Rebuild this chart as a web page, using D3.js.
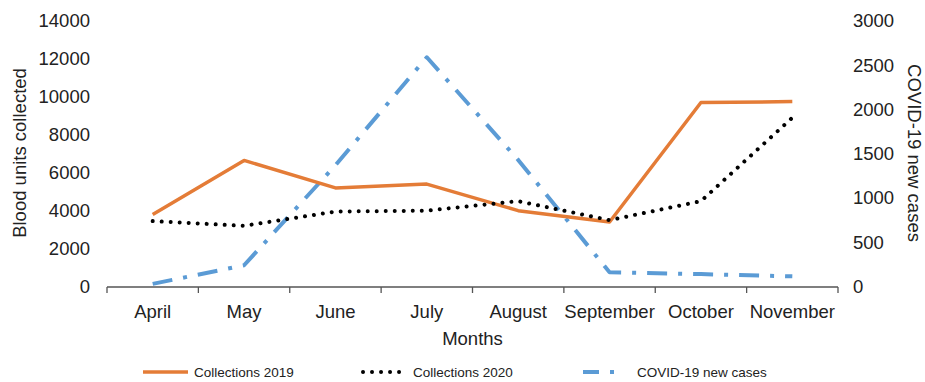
<!DOCTYPE html>
<html>
<head>
<meta charset="utf-8">
<script src="https://cdn.jsdelivr.net/npm/d3@7"></script>
<style>
  body { margin: 0; background: #fff; }
  text { font-family: "Liberation Sans", Arial, sans-serif; fill: #222; }
</style>
</head>
<body>
<script>
// data
var months = ["April", "May", "June", "July", "August", "September", "October", "November"];
var collections2019 = [3800, 6650, 5200, 5400, 4000, 3400, 9700, 9750];
var collections2020 = [3450, 3200, 3950, 4000, 4500, 3500, 4500, 8900];
var covidCases = [30, 240, 1370, 2590, 1430, 160, 140, 115];
var leftTicks = [0, 2000, 4000, 6000, 8000, 10000, 12000, 14000];
var rightTicks = [0, 500, 1000, 1500, 2000, 2500, 3000];

var W = 925, H = 382;
var margin = { left: 107, right: 87, top: 21, bottom: 96 };

var svg = d3.select("body").append("svg")
    .attr("width", W)
    .attr("height", H);

var x = d3.scaleBand().domain(months).range([margin.left, W - margin.right]);
var yL = d3.scaleLinear().domain([0, 14000]).range([286.5, margin.top]);
var yR = d3.scaleLinear().domain([0, 3000]).range([286.5, margin.top]);

// x axis
var xg = svg.append("g").attr("transform", "translate(0,287)");
xg.append("line")
    .attr("x1", x.range()[0]).attr("x2", x.range()[1])
    .attr("stroke", "#555").attr("stroke-width", 1.3);
var tickPos = months.map(function (m) { return x(m); }).concat([x.range()[1]]);
xg.selectAll(".tk").data(tickPos).enter().append("line")
    .attr("x1", function (d) { return d; }).attr("x2", function (d) { return d; })
    .attr("y1", 0).attr("y2", 6)
    .attr("stroke", "#555").attr("stroke-width", 1.3);
xg.selectAll(".lb").data(months).enter().append("text")
    .attr("x", function (d) { return x(d) + x.bandwidth() / 2; })
    .attr("y", 31)
    .attr("text-anchor", "middle")
    .style("font-size", "18.5px")
    .text(function (d) { return d; });

// left ticks
svg.selectAll(".lt").data(leftTicks).enter().append("text")
    .attr("x", 90)
    .attr("y", function (d) { return yL(d); })
    .attr("dy", "0.35em")
    .attr("text-anchor", "end")
    .style("font-size", "18.5px")
    .text(function (d) { return d; });

// right ticks
svg.selectAll(".rt").data(rightTicks).enter().append("text")
    .attr("x", 853)
    .attr("y", function (d) { return yR(d); })
    .attr("dy", "0.35em")
    .style("font-size", "18.5px")
    .text(function (d) { return d; });

// axis titles
svg.append("text")
    .attr("transform", "translate(26,153) rotate(-90)")
    .attr("text-anchor", "middle")
    .style("font-size", "18.5px")
    .text("Blood units collected");
svg.append("text")
    .attr("transform", "translate(908,153) rotate(90)")
    .attr("text-anchor", "middle")
    .style("font-size", "18.5px")
    .text("COVID-19 new cases");
svg.append("text")
    .attr("x", (x.range()[0] + x.range()[1]) / 2)
    .attr("y", 345)
    .attr("text-anchor", "middle")
    .style("font-size", "18.5px")
    .text("Months");

var cx = function (d, i) { return x(months[i]) + x.bandwidth() / 2; };

var series = [
    { name: "Collections 2019", values: collections2019, y: yL, color: "#E47C37", width: 3.5, dash: null, cap: "butt" },
    { name: "Collections 2020", values: collections2020, y: yL, color: "#000", width: 4, dash: "0.01,9", cap: "round" },
    { name: "COVID-19 new cases", values: covidCases, y: yR, color: "#5B9BD5", width: 4, dash: "20,11,4,11", cap: "butt" }
];

// draw order: blue below, then orange, then dots
[series[2], series[0], series[1]].forEach(function (s) {
    var line = d3.line().x(cx).y(function (d) { return s.y(d); });
    svg.append("path")
        .datum(s.values)
        .attr("d", line)
        .attr("fill", "none")
        .attr("stroke", s.color)
        .attr("stroke-width", s.width)
        .attr("stroke-linecap", s.cap)
        .attr("stroke-linejoin", "round")
        .attr("stroke-dasharray", s.dash);
});

// legend
var legendX = [143, 363, 583];
var legendLen = [45, 45, 34];
var legendTextX = [194, 413, 637];
series.forEach(function (s, i) {
    var g = svg.append("g").attr("transform", "translate(0,372)");
    g.append("line")
        .attr("x1", legendX[i]).attr("x2", legendX[i] + legendLen[i])
        .attr("stroke", s.color)
        .attr("stroke-width", s.width)
        .attr("stroke-linecap", s.cap)
        .attr("stroke-dasharray", i === 2 ? "16,11,4,11" : s.dash);
    g.append("text")
        .attr("x", legendTextX[i])
        .attr("dy", "0.35em")
        .style("font-size", "13.5px")
        .text(s.name);
});
</script>
</body>
</html>
